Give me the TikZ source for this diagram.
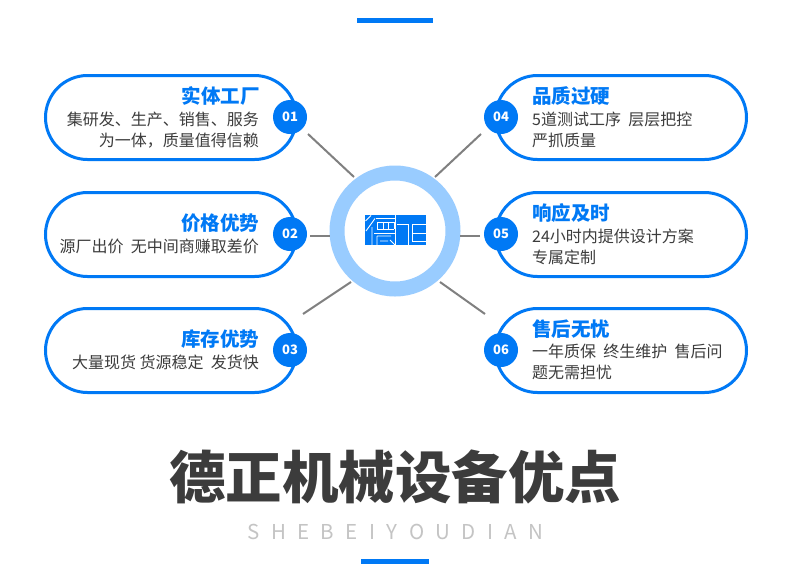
\documentclass[tikz,border=0pt]{standalone}
\usepackage{fontspec}
\setmainfont{Noto Sans CJK SC}
\definecolor{brand}{HTML}{0079F5}
\definecolor{ringc}{HTML}{99CCFF}
\definecolor{ink}{HTML}{3C3C3C}
\definecolor{spoke}{HTML}{808080}
\definecolor{subt}{HTML}{C4C4C4}
\tikzset{
 x=1pt,y=-1pt,
 pill/.style={draw=brand,line width=3pt,fill=white,rounded corners=42pt},
 badge/.style={circle,fill=brand,minimum size=34pt,inner sep=0pt,text=white,font=\fontsize{13}{13}\selectfont\bfseries},
 spokeline/.style={draw=spoke,line width=2pt},
 head/.style={text=brand,font=\fontsize{19.5}{19.5}\selectfont\bfseries,inner sep=0pt},
 bodyr/.style={text=ink,font=\fontsize{16}{20.7}\selectfont,inner sep=0pt,align=right},
 bodyl/.style={text=ink,font=\fontsize{16}{20.7}\selectfont,inner sep=0pt,align=left},
 bar/.style={fill=brand,draw=none},
 logoline/.style={white,line width=0.9pt},
}
\begin{document}
\begin{tikzpicture}
\useasboundingbox (0,0) rectangle (790,581);
\fill[white] (0,0) rectangle (790,581);
\fill[bar] (357,18) rectangle (433,23);
\fill[bar] (361,559) rectangle (429,564);
% ring
\node[circle,draw=ringc,line width=15pt,minimum size=116pt,inner sep=0pt] (hub) at (395,231) {};
% pills
\draw[pill] (45.5,75.5) rectangle (296.5,159.5);
\draw[pill] (45.5,192.5) rectangle (296.5,276.5);
\draw[pill] (45.5,308.5) rectangle (296.5,392.5);
\draw[pill] (495.5,75.5) rectangle (746.5,159.5);
\draw[pill] (495.5,192.5) rectangle (746.5,276.5);
\draw[pill] (495.5,308.5) rectangle (746.5,392.5);
% badges
\node[badge] (b1) at (290,117) {01};
\node[badge] (b2) at (290,234) {02};
\node[badge] (b3) at (290,350) {03};
\node[badge] (b4) at (501,117) {04};
\node[badge] (b5) at (501,234) {05};
\node[badge] (b6) at (501,350) {06};
% spokes
\coordinate (s1a) at (308,134); \coordinate (s1b) at (354,177);
\coordinate (s2a) at (310,236); \coordinate (s2b) at (330,236);
\coordinate (s3a) at (303,314); \coordinate (s3b) at (351,282);
\coordinate (s4a) at (481,134); \coordinate (s4b) at (435,177);
\coordinate (s5a) at (480,236); \coordinate (s5b) at (460,236);
\coordinate (s6a) at (485,314); \coordinate (s6b) at (440,282);
\draw[spokeline] (s1a)--(s1b); \draw[spokeline] (s2a)--(s2b); \draw[spokeline] (s3a)--(s3b);
\draw[spokeline] (s4a)--(s4b); \draw[spokeline] (s5a)--(s5b); \draw[spokeline] (s6a)--(s6b);
% logo
\fill[brand] (365,215) rectangle (426,245);
\draw[logoline] (365.5,221)--(371,215.5) (366,231)--(375,218.5) (372,227)--(372,245);
\draw[logoline] (376,218)--(395,218) (377,222)--(394,222) (377,222)--(377,229) (394,222)--(394,229) (377,229)--(394,229) (383,222)--(383,229) (388,222)--(388,229) (374,233)--(395,233);
\draw[logoline] (377,236)--(377,245) (377,236)--(391,236) (380,241)--(388,241) (390,240)--(395,245);
\draw[logoline] (395.5,215)--(395.5,245) (397,224)--(408,224)--(408,245);
\draw[logoline] (412,224)--(426,224) (412,224)--(412,241) (412,233.5)--(426,233.5) (412,241)--(426,241);
% texts
\node[head,anchor=east] (t1) at (260,96.3) {实体工厂};
\node[bodyr,anchor=north east] (d1) at (259,112) {集研发、生产、销售、服务\\为一体，质量值得信赖};
\node[head,anchor=east] (t2) at (259.5,223.3) {价格优势};
\node[bodyr,anchor=east] (d2) at (259,246.5) {源厂出价\ \ 无中间商赚取差价};
\node[head,anchor=east] (t3) at (259.5,339.3) {库存优势};
\node[bodyr,anchor=east] (d3) at (259,362) {大量现货 货源稳定\ \ 发货快};
\node[head,anchor=west] (t4) at (532,96.3) {品质过硬};
\node[bodyl,anchor=north west] (d4) at (532,112) {5道测试工序\ \ 层层把控\\严抓质量};
\node[head,anchor=west] (t5) at (532,213.3) {响应及时};
\node[bodyl,anchor=north west] (d5) at (532,229) {24小时内提供设计方案\\专属定制};
\node[head,anchor=west] (t6) at (532,329.3) {售后无忧};
\node[bodyl,anchor=north west] (d6) at (532,344) {一年质保\ \ 终生维护\ \ 售后问\\题无需担忧};
\node[text=ink,font=\fontsize{56.5}{56.5}\selectfont\bfseries,inner sep=0pt] (title) at (395,476.5) {德正机械设备优点};
\node[text=subt,font=\fontsize{20.5}{20.5}\selectfont,inner sep=0pt] (sub) at (395.5,532) {S\hskip 11.4pt H\hskip 11.4pt E\hskip 11.4pt B\hskip 11.4pt E\hskip 11.4pt I\hskip 11.4pt Y\hskip 11.4pt O\hskip 11.4pt U\hskip 11.4pt D\hskip 11.4pt I\hskip 11.4pt A\hskip 11.4pt N};
\end{tikzpicture}
\end{document}
